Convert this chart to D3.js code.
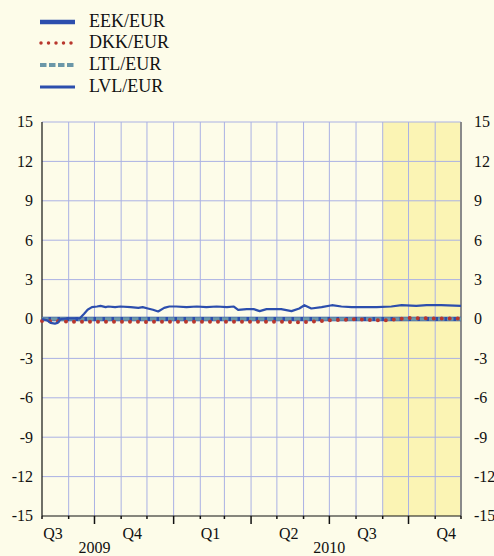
<!DOCTYPE html>
<html>
<head>
<meta charset="utf-8">
<script src="https://cdn.jsdelivr.net/npm/d3@7"></script>
<style>
  html, body { margin: 0; padding: 0; background: #fdfce9; }
  svg { display: block; font-family: "Liberation Serif", "Times New Roman", serif; }
</style>
</head>
<body>
<svg></svg>
<script>
var width = 494;
var height = 556;

// series (dates, values in %)
var lvlDates = ['2009-08-01','2009-08-07','2009-08-11','2009-08-16','2009-08-19','2009-08-23','2009-09-02','2009-09-14',
  '2009-09-19','2009-09-23','2009-09-28','2009-10-04','2009-10-08','2009-10-14','2009-10-17','2009-10-25','2009-10-31',
  '2009-11-12','2009-11-21','2009-11-26','2009-12-02','2009-12-08','2009-12-14','2009-12-21','2009-12-27','2010-01-04',
  '2010-01-16','2010-01-28','2010-02-08','2010-02-20','2010-03-04','2010-03-12','2010-03-17','2010-03-27','2010-04-04',
  '2010-04-11','2010-04-19','2010-05-06','2010-05-18','2010-05-27','2010-06-02','2010-06-10','2010-06-22','2010-07-04',
  '2010-07-15','2010-07-27','2010-08-10','2010-08-25','2010-09-11','2010-09-23','2010-10-10','2010-10-22','2010-11-08','2010-12-01'];
var lvlValues = [0, -0.1, -0.3, -0.35, -0.3, 0, 0.05, 0.05,
  0.4, 0.7, 0.9, 0.95, 1.0, 0.9, 0.95, 0.9, 0.95,
  0.9, 0.85, 0.9, 0.8, 0.7, 0.57, 0.85, 0.95, 0.95,
  0.9, 0.95, 0.9, 0.95, 0.9, 0.95, 0.7, 0.75, 0.75,
  0.6, 0.75, 0.75, 0.6, 0.8, 1.05, 0.8, 0.9, 1.05,
  0.95, 0.9, 0.9, 0.9, 0.95, 1.05, 1.0, 1.05, 1.05, 1.0];

var dkkDates = ['2009-08-01','2009-09-01','2009-10-01','2009-11-01','2009-12-01','2010-01-01','2010-02-01','2010-03-01',
  '2010-04-01','2010-05-01','2010-06-01','2010-07-01','2010-08-01','2010-09-01','2010-10-01','2010-11-01','2010-12-01'];
var dkkValues = [-0.15, -0.2, -0.2, -0.2, -0.22, -0.2, -0.2, -0.2, -0.2, -0.2, -0.25, -0.1, -0.02, -0.12, 0.08, 0.03, 0.03];

var eekDates = ['2009-08-01', '2010-12-01'];
var eekValues = [0, 0];
var ltlDates = ['2009-08-01', '2010-12-01'];
var ltlValues = [0, 0];

var yTicks = [15, 12, 9, 6, 3, 0, -3, -6, -9, -12, -15];
var quarterLabels = ['Q3', 'Q4', 'Q1', 'Q2', 'Q3', 'Q4'];
var quarterMids = ['2009-08-15', '2009-11-15', '2010-02-14', '2010-05-16', '2010-08-15', '2010-11-15'];
var yearLabels = ['2009', '2010'];
var yearPos = ['2009-10-01', '2010-07-01'];
var shadeRange = ['2010-09-01', '2010-12-01'];
var legendNames = ['EEK/EUR', 'DKK/EUR', 'LTL/EUR', 'LVL/EUR'];

var parse = d3.timeParse('%Y-%m-%d');
function zip(dates, vals) { return dates.map((d, i) => ({date: parse(d), v: vals[i]})); }

var blue = '#2c4ead', red = '#b9372d', teal = '#6b97a8', grid = '#aab1e4';

var svg = d3.select('svg').attr('width', width).attr('height', height);

var plotLeft = 42, plotRight = 461, plotTop = 122, plotBottom = 516;

var x = d3.scaleTime()
  .domain([parse('2009-08-01'), parse('2010-12-01')])
  .range([plotLeft, plotRight]);
var y = d3.scaleLinear().domain([-15, 15]).range([plotBottom, plotTop]);

// shaded projection area
svg.append('rect')
  .attr('x', x(parse(shadeRange[0])))
  .attr('y', plotTop)
  .attr('width', x(parse(shadeRange[1])) - x(parse(shadeRange[0])))
  .attr('height', plotBottom - plotTop)
  .attr('fill', '#fbf4b4');

var months = d3.timeMonth.range(parse('2009-08-01'), d3.timeDay.offset(parse('2010-12-01'), 1));

// gridlines
svg.append('g').selectAll('line')
  .data(months.slice(1, -1))
  .join('line')
  .attr('x1', d => x(d)).attr('x2', d => x(d))
  .attr('y1', plotTop).attr('y2', plotBottom)
  .attr('stroke', grid).attr('stroke-width', 1);

svg.append('g').selectAll('line')
  .data(yTicks.slice(0, -1))
  .join('line')
  .attr('x1', plotLeft).attr('x2', plotRight)
  .attr('y1', d => y(d)).attr('y2', d => y(d))
  .attr('stroke', grid).attr('stroke-width', 1);

// axes lines
svg.append('line').attr('x1', plotLeft).attr('x2', plotLeft).attr('y1', plotTop).attr('y2', plotBottom)
  .attr('stroke', '#111').attr('stroke-width', 1.2);
svg.append('line').attr('x1', plotRight).attr('x2', plotRight).attr('y1', plotTop).attr('y2', plotBottom)
  .attr('stroke', '#8a8a8a').attr('stroke-width', 2);
svg.append('line').attr('x1', plotLeft).attr('x2', plotRight).attr('y1', plotBottom).attr('y2', plotBottom)
  .attr('stroke', '#111').attr('stroke-width', 1.2);

// month ticks, longer at quarter starts
svg.append('g').selectAll('line')
  .data(months)
  .join('line')
  .attr('x1', d => x(d)).attr('x2', d => x(d))
  .attr('y1', plotBottom)
  .attr('y2', d => plotBottom + (d.getMonth() % 3 === 0 ? 8 : 3))
  .attr('stroke', '#111').attr('stroke-width', 1.5);

// y labels
svg.append('g').selectAll('text')
  .data(yTicks)
  .join('text')
  .attr('x', 33).attr('y', d => y(d)).attr('dy', '0.34em')
  .attr('text-anchor', 'end').attr('font-size', 16).attr('fill', '#111')
  .text(d => d);
svg.append('g').selectAll('text')
  .data(yTicks)
  .join('text')
  .attr('x', 474).attr('y', d => y(d)).attr('dy', '0.34em')
  .attr('text-anchor', 'start').attr('font-size', 16).attr('fill', '#111')
  .text(d => d);

// quarter and year labels
svg.append('g').selectAll('text')
  .data(quarterLabels)
  .join('text')
  .attr('x', (d, i) => x(parse(quarterMids[i])) - 1).attr('y', 539)
  .attr('text-anchor', 'middle').attr('font-size', 16).attr('fill', '#111')
  .text(d => d);
svg.append('g').selectAll('text')
  .data(yearLabels)
  .join('text')
  .attr('x', (d, i) => x(parse(yearPos[i]))).attr('y', 553)
  .attr('text-anchor', 'middle').attr('font-size', 16).attr('fill', '#111')
  .text(d => d);

// series
var line = d3.line().x(d => x(d.date)).y(d => y(d.v));
svg.append('path').datum(zip(eekDates, eekValues)).attr('d', line)
  .attr('fill', 'none').attr('stroke', blue).attr('stroke-width', 4.5);
svg.append('path').datum(zip(ltlDates, ltlValues)).attr('d', line)
  .attr('fill', 'none').attr('stroke', teal).attr('stroke-width', 3.5)
  .attr('stroke-dasharray', '6.5 2.5');
svg.append('path').datum(zip(dkkDates, dkkValues)).attr('d', line)
  .attr('fill', 'none').attr('stroke', red).attr('stroke-width', 4)
  .attr('stroke-linecap', 'round').attr('stroke-dasharray', '0 8');
svg.append('path').datum(zip(lvlDates, lvlValues)).attr('d', line)
  .attr('fill', 'none').attr('stroke', blue).attr('stroke-width', 2.2)
  .attr('stroke-linejoin', 'round');

// legend
var legend = svg.append('g');
var rowY = [22, 43, 65, 87];
legendNames.forEach(function(name, i) {
  var l = legend.append('line')
    .attr('x1', 40).attr('x2', 75).attr('y1', rowY[i]).attr('y2', rowY[i])
    .attr('fill', 'none');
  if (i === 0) l.attr('stroke', blue).attr('stroke-width', 4.5);
  if (i === 1) l.attr('x1', 41).attr('stroke', red).attr('stroke-width', 3.5).attr('stroke-linecap', 'round').attr('stroke-dasharray', '0 7.5');
  if (i === 2) l.attr('stroke', teal).attr('stroke-width', 4).attr('stroke-dasharray', '6.5 2.5');
  if (i === 3) l.attr('stroke', blue).attr('stroke-width', 3);
  legend.append('text')
    .attr('x', 89).attr('y', rowY[i] + 5)
    .attr('font-size', 18).attr('fill', '#111')
    .text(name);
});
</script>
</body>
</html>
